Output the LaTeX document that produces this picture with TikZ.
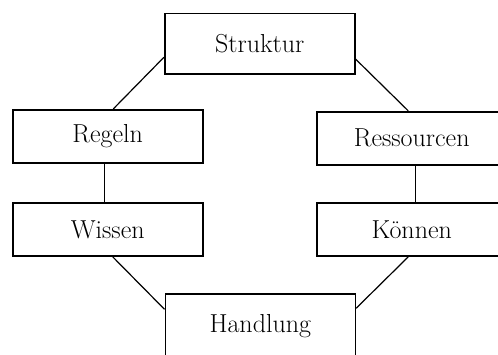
\documentclass[tikz,border=0pt]{standalone}
\usepackage{fontspec}
\usetikzlibrary{calc}
\begin{document}
\begin{tikzpicture}[x=1pt,y=-1pt,
  conceptbox/.style={draw, line width=1.6pt, rectangle, inner sep=0pt,
    minimum width=190pt, font=\fontsize{26}{30}\selectfont},
  tallbox/.style={conceptbox, minimum height=60.5pt},
  flatbox/.style={conceptbox, minimum height=53pt},
  link/.style={line width=1.2pt}]
  \useasboundingbox (0,0) rectangle (498,354);
  \clip (0,0) rectangle (498,354);

  % the six concept boxes
  \node[tallbox] (struktur)   at (259.7,43.7)  {Struktur};
  \node[flatbox] (regeln)     at (107.7,136.2) {Regeln};
  \node[flatbox] (ressourcen) at (411.7,138.2) {Ressourcen};
  \node[flatbox] (wissen)     at (107.7,229.5) {Wissen};
  \node[flatbox] (koennen)    at (411.7,229.5) {Können};
  \node[tallbox, minimum height=64pt] (handlung) at (260.3,326) {Handlung};

  % connectors around the ring
  \draw[link] ($(struktur.west)+(0,13.6)$) -- ($(regeln.north)+(5.6,0)$);
  \draw[link] ($(struktur.east)+(0,15.3)$) -- ($(ressourcen.north)+(-3.4,0)$);
  \draw[link] ($(regeln.south)+(-3.4,0)$) -- ($(wissen.north)+(-3.4,0)$);
  \draw[link] ($(ressourcen.south)+(4,0)$) -- ($(koennen.north)+(4,0)$);
  \draw[link] ($(wissen.south)+(5,0)$) -- ($(handlung.west)+(0,-16.7)$);
  \draw[link] ($(koennen.south)+(-3.4,0)$) -- ($(handlung.east)+(0,-17.7)$);
\end{tikzpicture}
\end{document}
